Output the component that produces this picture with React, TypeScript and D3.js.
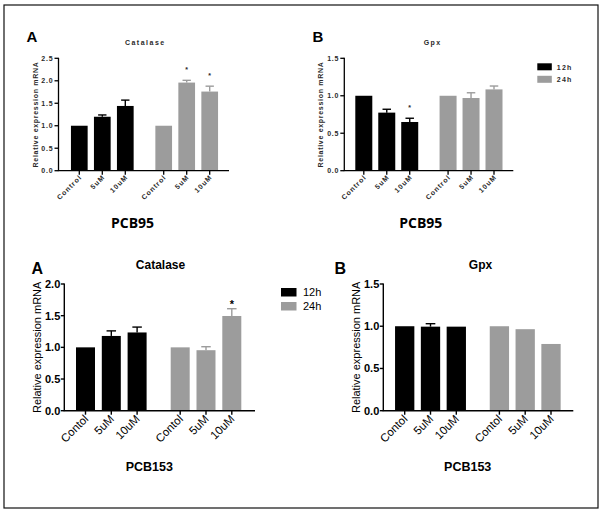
import React from "react";
import * as d3 from "d3";

// ---------- data ----------
const categoriesPCB95 = ["Control", "5uM", "10uM", "Control", "5uM", "10uM"];
const categoriesPCB153 = ["Contol", "5uM", "10uM", "Contol", "5uM", "10uM"];
const seriesNames = ["12h", "24h"];

// PCB95 Catalase
const cat95_12h = [1.0, 1.2, 1.44];
const cat95_12h_err = [0, 0.04, 0.13];
const cat95_24h = [1.0, 1.96, 1.76];
const cat95_24h_err = [0, 0.05, 0.12];
const cat95_stars = [false, false, false, false, true, true];
const cat95_ticks = [0, 0.5, 1.0, 1.5, 2.0, 2.5];

// PCB95 Gpx
const gpx95_12h = [1.0, 0.775, 0.65];
const gpx95_12h_err = [0, 0.045, 0.05];
const gpx95_24h = [1.0, 0.97, 1.085];
const gpx95_24h_err = [0, 0.07, 0.045];
const gpx95_stars = [false, false, true, false, false, false];
const gpx95_ticks = [0, 0.5, 1.0, 1.5];

// PCB153 Catalase
const cat153_12h = [1.0, 1.18, 1.235];
const cat153_12h_err = [0, 0.08, 0.085];
const cat153_24h = [1.0, 0.955, 1.495];
const cat153_24h_err = [0, 0.055, 0.115];
const cat153_stars = [false, false, false, false, false, true];
const cat153_ticks = [0, 0.5, 1.0, 1.5, 2.0];

// PCB153 Gpx
const gpx153_12h = [1.0, 0.995, 0.995];
const gpx153_12h_err = [0, 0.035, 0];
const gpx153_24h = [1.0, 0.965, 0.79];
const gpx153_24h_err = [0, 0, 0];
const gpx153_stars = [false, false, false, false, false, false];
const gpx153_ticks = [0, 0.5, 1.0, 1.5];

// slot layout (group 2 offset)
const slots = [0, 1, 2, 3.67, 4.67, 5.67];

const BLACK = "#000";
const GRAY = "#9c9c9c";
const FONT = "'Liberation Sans', Arial, sans-serif";

type PanelProps = {
  cats: string[];
  v12: number[]; e12: number[]; v24: number[]; e24: number[];
  stars: boolean[];
  ticks: number[];
  yMax: number;
  axisX0: number; axisX1: number;
  c0: number; c5: number;
  yTop: number; yBottom: number;
  barW: number;
  small: boolean;
  title: string; titleX: number; titleY: number;
  letter: string; letterX: number; letterY: number;
  ylabX: number;
  group: string; groupX: number; groupY: number;
  legendX?: number; legendY?: number;
};

function Panel(p: PanelProps) {
  const y = d3.scaleLinear().domain([0, p.yMax]).range([p.yBottom, p.yTop]);
  const x = d3.scaleLinear().domain([0, 5.67]).range([p.c0, p.c5]);
  const values = [...p.v12, ...p.v24];
  const errs = [...p.e12, ...p.e24];
  const colors = [BLACK, BLACK, BLACK, GRAY, GRAY, GRAY];
  const small = p.small;
  const smallFill = "#2a2a2a";
  const axisW = small ? 1.3 : 1.4;
  return (
    <g>
      {/* panel letter */}
      <text x={p.letterX} y={p.letterY} fontFamily={FONT} fontWeight="bold" fontSize={small ? 15 : 16}>{p.letter}</text>
      {/* title */}
      <text x={p.titleX} y={p.titleY} textAnchor="middle" fontFamily={FONT}
        fontWeight="bold" fontSize={small ? 7 : 12} letterSpacing={small ? 1.5 : 0}
        fill={small ? smallFill : "#000"}>{p.title}</text>
      {/* bars */}
      {values.map((v, i) => (
        <rect key={"b" + i} x={x(slots[i]) - p.barW / 2} y={y(v)} width={p.barW}
          height={p.yBottom - y(v)} fill={colors[i]} />
      ))}
      {/* error bars */}
      {values.map((v, i) => errs[i] > 0 ? (
        <g key={"e" + i} stroke={colors[i]} strokeWidth={1.4}>
          <line x1={x(slots[i])} x2={x(slots[i])} y1={y(v)} y2={y(v + errs[i])} />
          <line x1={x(slots[i]) - p.barW * 0.25} x2={x(slots[i]) + p.barW * 0.25}
            y1={y(v + errs[i])} y2={y(v + errs[i])} />
        </g>
      ) : null)}
      {/* stars */}
      {values.map((v, i) => p.stars[i] ? (
        <text key={"s" + i} x={x(slots[i])} y={y(v + errs[i]) - (small ? 8 : 1)}
          textAnchor="middle" fontFamily={FONT} fontSize={small ? 7 : 11}
          fontWeight="bold" fill={small ? smallFill : "#000"}>*</text>
      ) : null)}
      {/* y axis */}
      <line x1={p.axisX0} x2={p.axisX0} y1={p.yTop - 0.5} y2={p.yBottom} stroke="#000" strokeWidth={axisW} />
      {p.ticks.map((t) => (
        <g key={"yt" + t}>
          <line x1={p.axisX0 - (small ? 4 : 3.5)} x2={p.axisX0} y1={y(t)} y2={y(t)} stroke="#000" strokeWidth={axisW} />
          <text x={p.axisX0 - (small ? 5 : 4)} y={y(t)} dy="0.35em" textAnchor="end"
            fontFamily={FONT} fontSize={small ? 7 : 11} fontWeight="bold"
            letterSpacing={small ? 0.8 : 0} fill={small ? smallFill : "#000"}>{d3.format(".1f")(t)}</text>
        </g>
      ))}
      {/* x axis */}
      <line x1={p.axisX0 - axisW / 2} x2={p.axisX1} y1={p.yBottom} y2={p.yBottom} stroke="#000" strokeWidth={axisW} />
      {p.cats.map((c, i) => (
        <g key={"xt" + i}>
          <line x1={x(slots[i])} x2={x(slots[i])} y1={p.yBottom} y2={p.yBottom + 4} stroke="#000" strokeWidth={axisW} />
          <text transform={`translate(${x(slots[i]) + (small ? 3 : 3.5)},${p.yBottom + (small ? 7 : 9)}) rotate(-45)`}
            textAnchor="end" fontFamily={FONT} fontSize={small ? 7 : 11.5}
            fontWeight={small ? "bold" : "normal"} letterSpacing={small ? 1.0 : 0}
            fill={small ? smallFill : "#000"}>{c}</text>
        </g>
      ))}
      {/* y label */}
      <text transform={`translate(${p.ylabX},${(p.yTop + p.yBottom) / 2}) rotate(-90)`}
        textAnchor="middle" fontFamily={FONT} fontSize={small ? 7 : 11}
        fontWeight={small ? "bold" : "normal"}
        letterSpacing={small ? 0.7 : 0} fill={small ? smallFill : "#000"}>Relative expression mRNA</text>
      {/* group label */}
      {small ? (
        <text x={p.groupX} y={p.groupY} textAnchor="middle" fontFamily="'Open Sans', sans-serif"
          fontWeight="bold" fontSize={14}>{p.group}</text>
      ) : (
        <text x={p.groupX} y={p.groupY} textAnchor="middle" fontFamily={FONT}
          fontWeight="bold" fontSize={12.5}>{p.group}</text>
      )}
      {/* legend */}
      {p.legendX !== undefined && p.legendY !== undefined ? (
        <g>
          {seriesNames.map((s, i) => (
            <g key={s}>
              <rect x={p.legendX} y={p.legendY! + i * (small ? 12.5 : 14)}
                width={small ? 14.5 : 15.5} height={small ? 7 : 8.5} fill={i === 0 ? BLACK : GRAY} />
              <text x={p.legendX! + (small ? 19.5 : 22)} y={p.legendY! + i * (small ? 12.5 : 14) + (small ? 6.5 : 8)}
                fontFamily={FONT} fontSize={small ? 7 : 11} fontWeight={small ? "bold" : "normal"}
                letterSpacing={small ? 1.2 : 0}
                fill={small ? smallFill : "#000"}>{s}</text>
            </g>
          ))}
        </g>
      ) : null}
    </g>
  );
}

export default function App() {
  return (
    <svg width={604} height={519} style={{ position: "absolute", left: 0, top: 0, background: "#fff" }}>
      <rect x={0} y={0} width={604} height={519} fill="#fff" />
      <rect x={4} y={5} width={594} height={503} fill="none" stroke="#111" strokeWidth={1.2} />
      <Panel cats={categoriesPCB95} v12={cat95_12h} e12={cat95_12h_err} v24={cat95_24h} e24={cat95_24h_err}
        stars={cat95_stars} ticks={cat95_ticks} yMax={2.5}
        axisX0={58.5} axisX1={229} c0={79.3} c5={209.7} yTop={58.3} yBottom={170.7} barW={16.7}
        small={true} title="Catalase" titleX={145.3} titleY={45}
        letter="A" letterX={26.5} letterY={42} ylabX={38}
        group="PCB95" groupX={132.5} groupY={228} />
      <Panel cats={categoriesPCB95} v12={gpx95_12h} e12={gpx95_12h_err} v24={gpx95_24h} e24={gpx95_24h_err}
        stars={gpx95_stars} ticks={gpx95_ticks} yMax={1.5}
        axisX0={344.3} axisX1={513.3} c0={363.8} c5={494} yTop={58.3} yBottom={170.7} barW={17}
        small={true} title="Gpx" titleX={432.7} titleY={45}
        letter="B" letterX={312.5} letterY={42} ylabX={323}
        group="PCB95" groupX={420.8} groupY={228}
        legendX={537.3} legendY={63.3} />
      <Panel cats={categoriesPCB153} v12={cat153_12h} e12={cat153_12h_err} v24={cat153_24h} e24={cat153_24h_err}
        stars={cat153_stars} ticks={cat153_ticks} yMax={2.0}
        axisX0={64.3} axisX1={255} c0={85.5} c5={231.8} yTop={284} yBottom={410.7} barW={19}
        small={false} title="Catalase" titleX={160.5} titleY={268.5}
        letter="A" letterX={31.5} letterY={273.5} ylabX={41}
        group="PCB153" groupX={149.3} groupY={471}
        legendX={281} legendY={288} />
      <Panel cats={categoriesPCB153} v12={gpx153_12h} e12={gpx153_12h_err} v24={gpx153_24h} e24={gpx153_24h_err}
        stars={gpx153_stars} ticks={gpx153_ticks} yMax={1.5}
        axisX0={383.3} axisX1={573.3} c0={404.7} c5={551} yTop={284} yBottom={410.7} barW={19.3}
        small={false} title="Gpx" titleX={480.5} titleY={268.5}
        letter="B" letterX={334.5} letterY={273.5} ylabX={360}
        group="PCB153" groupX={467.7} groupY={471} />
    </svg>
  );
}
